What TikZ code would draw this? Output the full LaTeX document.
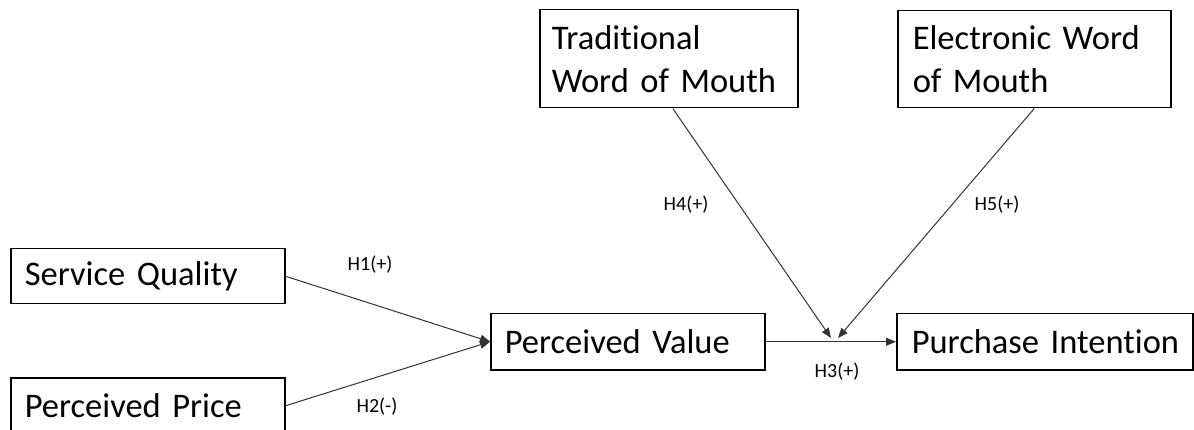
\documentclass[tikz,border=0pt]{standalone}
\usepackage{fontspec}
\setmainfont{Carlito}[Ligatures=NoCommon]
\usetikzlibrary{arrows.meta}
\newcommand\mybxfont{\fontsize{34.5}{43}\selectfont\spaceskip=0.17em\relax}
\begin{document}
\begin{tikzpicture}[x=1pt,y=-1pt,
  box/.style={draw=black, line width=1.5pt, rectangle, anchor=north west,
    inner ysep=0pt, align=left, font=\mybxfont},
  conn/.style={draw=black!80, line width=1pt, -{Triangle[length=10pt,width=8pt]}},
  lab/.style={font=\fontsize{20}{24}\selectfont, inner sep=0pt}]
\useasboundingbox (0,0) rectangle (1194,430);
\node[box, inner xsep=14pt, text width=246pt, minimum height=55pt] (sq) at (10,248) {\mbox{Service Quality}};
\node[box, inner xsep=14pt, text width=246pt, minimum height=56pt] (pp) at (10,377) {\mbox{Perceived Price}};
\node[box, inner xsep=14pt, text width=246pt, minimum height=56pt] (pv) at (490,313) {\mbox{Perceived Value}};
\node[box, inner xsep=15pt, text width=266pt, minimum height=56pt] (pi) at (896,313) {\mbox{Purchase Intention}};
\node[box, inner xsep=12pt, text width=234pt, minimum height=98pt] (tw) at (539,9) {\mbox{Traditional}\\\mbox{Word of Mouth}};
\node[box, inner xsep=15pt, text width=243pt, minimum height=97pt] (ew) at (897,10) {\mbox{Electronic Word}\\\mbox{of Mouth}};
\coordinate (m1) at (831,338);
\coordinate (m2) at (838,338);
\draw[conn] (sq.east) -- (pv.west);
\draw[conn] (pp.east) -- (pv.west);
\draw[conn] (pv.east) -- (pi.west);
\draw[conn] ([xshift=4pt]tw.south) -- (m1);
\draw[conn] (ew.south) -- (m2);
\node[lab] (h1) at (370,265) {H1(+)};
\node[lab] (h2) at (377,407) {H2(-)};
\node[lab] (h3) at (837,372) {H3(+)};
\node[lab] (h4) at (686,205) {H4(+)};
\node[lab] (h5) at (997,205) {H5(+)};
\end{tikzpicture}
\end{document}
